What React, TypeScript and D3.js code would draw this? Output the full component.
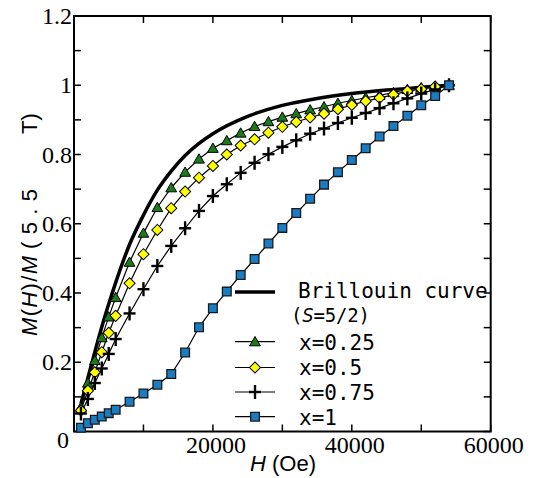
import { scaleLinear, line, curveMonotoneX, symbol, symbolTriangle, symbolSquare, range } from "d3";

// applied field (Oe) shared by the four measured series
const fields = [1000, 2000, 3000, 4000, 5000, 6000, 8000, 10000, 12000, 14000, 16000, 18000, 20000, 22000, 24000,
  26000, 28000, 30000, 32000, 34000, 36000, 38000, 40000, 42000, 44000, 46000, 48000, 50000, 52000, 54000];

const mX025 = [0.070, 0.140, 0.205, 0.271, 0.331, 0.387, 0.489, 0.573, 0.647, 0.704, 0.749, 0.787, 0.818, 0.840, 0.862,
  0.881, 0.895, 0.908, 0.918, 0.929, 0.938, 0.948, 0.956, 0.964, 0.971, 0.979, 0.988, 0.993, 0.997, 1.0];
const mX05 = [0.061, 0.118, 0.171, 0.229, 0.285, 0.334, 0.428, 0.512, 0.582, 0.645, 0.693, 0.733, 0.767, 0.800, 0.826,
  0.844, 0.863, 0.880, 0.894, 0.907, 0.918, 0.931, 0.943, 0.954, 0.963, 0.973, 0.983, 0.989, 0.996, 1.0];
const mX075 = [0.052, 0.094, 0.140, 0.182, 0.224, 0.267, 0.341, 0.411, 0.478, 0.536, 0.587, 0.637, 0.680, 0.714, 0.747,
  0.776, 0.801, 0.822, 0.841, 0.860, 0.875, 0.891, 0.906, 0.920, 0.934, 0.948, 0.962, 0.976, 0.988, 1.0];
const mX1 = [0.011, 0.024, 0.034, 0.043, 0.053, 0.063, 0.086, 0.110, 0.135, 0.166, 0.228, 0.301, 0.356, 0.404, 0.452,
  0.498, 0.543, 0.588, 0.631, 0.672, 0.713, 0.749, 0.784, 0.818, 0.852, 0.882, 0.912, 0.942, 0.969, 1.0];

// Brillouin curve (S=5/2)
const brillouinH = [1000, 2000, 3000, 4000, 5000, 6000, 8000, 10000, 12000, 14000, 16000, 18000, 20000,
  25000, 30000, 35000, 40000, 45000, 50000, 54000];
const brillouinM = [0.080, 0.155, 0.230, 0.302, 0.368, 0.430, 0.540, 0.625, 0.697, 0.752, 0.797, 0.832, 0.860,
  0.910, 0.942, 0.962, 0.976, 0.986, 0.994, 1.0];

const xTickLabels = ["20000", "40000", "60000"];
const yTickLabels = ["0.2", "0.4", "0.6", "0.8", "1", "1.2"];
const legendLabels = ["x=0.25", "x=0.5", "x=0.75", "x=1"];

const W = 535, H = 478;
const left = 74, right = 490.7, top = 16, bottom = 431.5;
const blue = "#1a7dc4";
const green = "#1b7a1b";
const yellow = "#ffff00";
const serif = "'Liberation Serif', Tinos, 'DejaVu Serif', serif";
const sans = "'Liberation Sans', Arimo, Arial, sans-serif";

const triPath = symbol(symbolTriangle, 50)();
const sqPath = symbol(symbolSquare, 76)();
const diaPath = symbol(symbolSquare, 62)();

function Marker({ kind, x, y }: { kind: number; x: number; y: number }) {
  if (kind === 0)
    return <path d={triPath!} transform={`translate(${x},${y + 1})`} fill={green} stroke="#000" strokeWidth={1} />;
  if (kind === 1)
    return <path d={diaPath!} transform={`translate(${x},${y}) rotate(45)`} fill={yellow} stroke="#000" strokeWidth={1} />;
  if (kind === 2)
    return (
      <g stroke="#000" strokeWidth={2.4}>
        <line x1={x - 6} x2={x + 6} y1={y} y2={y} />
        <line x1={x} x2={x} y1={y - 7} y2={y + 7} />
      </g>
    );
  return <path d={sqPath!} transform={`translate(${x},${y})`} fill={blue} stroke="#1a1a1a" strokeWidth={1.3} />;
}

export default function App() {
  const x = scaleLinear().domain([0, 60000]).range([left, right]);
  const y = scaleLinear().domain([0, 1.2]).range([bottom, top]);

  const series = [mX025, mX05, mX075, mX1];
  const seriesLine = line<number>()
    .x((_, i) => x(fields[i]))
    .y((d) => y(d));
  const brillouinLine = line<number>()
    .x((_, i) => x(brillouinH[i]))
    .y((d) => y(d))
    .curve(curveMonotoneX);

  const xTicks = range(0, 60001, 10000);
  const yTicks = range(0, 13).map((i) => i / 10);
  const tick = 7;

  const legendRows = [341.7, 367.5, 392, 416.7];
  const legendTextY = [350, 375, 399.5, 425];

  return (
    <svg width={W} height={H} style={{ position: "absolute", left: 0, top: 0, background: "#fff" }}>
      <rect width={W} height={H} fill="#fff" />
      {/* ticks */}
      <g stroke="#000" strokeWidth={1.5}>
        {xTicks.map((t) => (
          <g key={"x" + t}>
            <line x1={x(t)} x2={x(t)} y1={bottom} y2={bottom - tick} />
            <line x1={x(t)} x2={x(t)} y1={top} y2={top + tick} />
          </g>
        ))}
        {yTicks.map((t) => (
          <g key={"y" + t}>
            <line x1={left} x2={left + tick} y1={y(t)} y2={y(t)} />
            <line x1={right} x2={right - tick} y1={y(t)} y2={y(t)} />
          </g>
        ))}
      </g>
      <rect x={left} y={top} width={right - left} height={bottom - top} fill="none" stroke="#000" strokeWidth={2} />

      {/* tick labels */}
      <g style={{ fontFamily: serif }} fontSize={24} fill="#000">
        {xTickLabels.map((t) => (
          <text key={t} x={x(+t) + 3} y={453} textAnchor="middle">{t}</text>
        ))}
        <text x={63} y={448} textAnchor="middle">0</text>
        {yTickLabels.map((t) => (
          <text key={t} x={72} y={y(+t)} dy="0.34em" textAnchor="end">{t}</text>
        ))}
      </g>

      {/* axis titles */}
      <g style={{ fontFamily: sans }} fontSize={22} fill="#000">
        <text x={283} y={471} textAnchor="middle">
          <tspan fontStyle="italic">H</tspan> (Oe)
        </text>
        <g transform="translate(37,0) rotate(-90)">
          <text x={-336} y={0} textLength={80} lengthAdjust="spacing">
            <tspan fontStyle="italic">M</tspan>(<tspan fontStyle="italic">H</tspan>)/<tspan fontStyle="italic">M</tspan>
          </text>
          <text x={-249} y={0} textLength={60} lengthAdjust="spacing">(5.5</text>
          <text x={-134} y={0}>T)</text>
        </g>
      </g>

      {/* Brillouin curve */}
      <path d={brillouinLine(brillouinM)!} fill="none" stroke="#000" strokeWidth={3.5} />

      {/* measured series */}
      {series.map((s, k) => (
        <path key={"l" + k} d={seriesLine(s)!} fill="none" stroke="#000" strokeWidth={1.2} />
      ))}
      {series.map((s, k) =>
        s.map((d, i) => <Marker key={k + "-" + i} kind={k} x={x(fields[i])} y={y(d)} />)
      )}

      {/* legend */}
      <line x1={235} x2={275} y1={292} y2={292} stroke="#000" strokeWidth={3.5} />
      {legendRows.map((ly, k) => (
        <g key={"lg" + k}>
          <line x1={235} x2={275} y1={ly} y2={ly} stroke="#000" strokeWidth={1.2} />
          <Marker kind={k} x={255} y={ly} />
        </g>
      ))}
      <g style={{ fontFamily: "'DejaVu Sans Mono', monospace" }} fontSize={21} fill="#000">
        <text x={298} y={298}>Brillouin curve</text>
        <text x={291} y={322} fontSize={19} textLength={79} lengthAdjust="spacing">
          (<tspan fontStyle="italic">S</tspan>=5/2)
        </text>
        {legendLabels.map((t, k) => (
          <text key={t} x={299} y={legendTextY[k]}>{t}</text>
        ))}
      </g>
    </svg>
  );
}
